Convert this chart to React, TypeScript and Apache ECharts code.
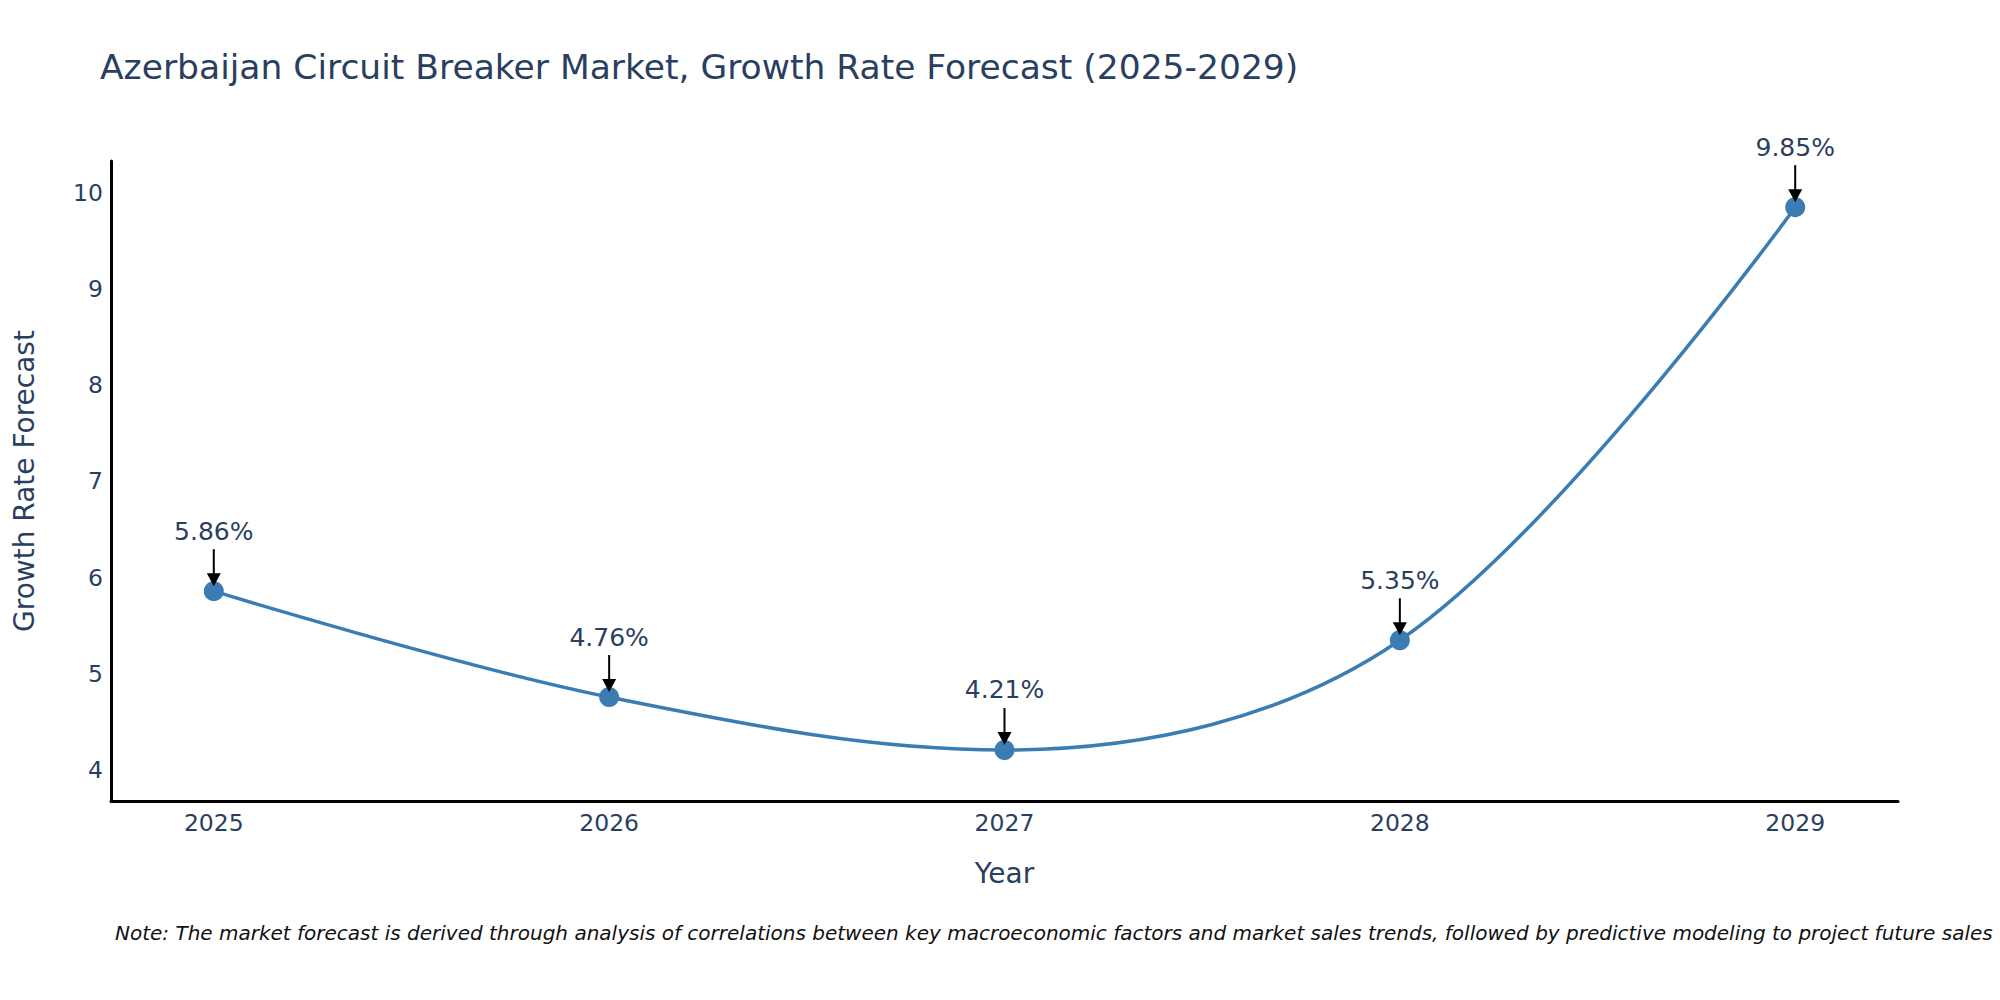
import React, { useEffect, useRef } from "react";
import * as echarts from "echarts";

const years = [2025, 2026, 2027, 2028, 2029];
const growthRates = [5.86, 4.76, 4.21, 5.35, 9.85];
const pointLabels = ["5.86%", "4.76%", "4.21%", "5.35%", "9.85%"];

const titleText = "Azerbaijan Circuit Breaker Market, Growth Rate Forecast (2025-2029)";
const noteText =
    "Note: The market forecast is derived through analysis of correlations between key macroeconomic factors and market sales trends, followed by predictive modeling to project future sales";

const FONT = "'DejaVu Sans', Verdana, sans-serif";
const INK = "#2a3f5f";
const LINE_COLOR = "#3b7db2";

const App: React.FC = () => {
    const chartRef = useRef<HTMLDivElement>(null);

    useEffect(() => {
        if (!chartRef.current) return;
        const chart = echarts.init(chartRef.current, null, { renderer: "svg" });

        const intLabel = (v: number) => (Math.abs(v - Math.round(v)) < 1e-6 ? String(Math.round(v)) : "");

        chart.setOption({
            animation: false,
            backgroundColor: "#fff",
            title: {
                text: titleText,
                left: 100,
                top: 49,
                padding: 0,
                textStyle: { fontFamily: FONT, fontSize: 34.5, fontWeight: "normal", color: INK }
            },
            grid: { left: 111, right: 102, top: 161, bottom: 199, containLabel: false },
            xAxis: {
                type: "value",
                min: 2024.74,
                max: 2029.26,
                name: "Year",
                nameLocation: "middle",
                nameGap: 58,
                nameTextStyle: { fontFamily: FONT, fontSize: 28, color: INK },
                axisLine: { show: true, lineStyle: { color: "#000", width: 3 } },
                axisTick: { show: false },
                splitLine: { show: false },
                axisLabel: {
                    formatter: intLabel,
                    showMinLabel: false,
                    showMaxLabel: false,
                    margin: 10,
                    fontFamily: FONT,
                    fontSize: 23.5,
                    color: INK
                }
            },
            yAxis: {
                type: "value",
                min: 3.68,
                max: 10.33,
                name: "Growth Rate Forecast",
                nameLocation: "middle",
                nameGap: 73,
                nameTextStyle: { fontFamily: FONT, fontSize: 28, color: INK },
                axisLine: { show: true, lineStyle: { color: "#000", width: 3 } },
                axisTick: { show: false },
                splitLine: { show: false },
                axisLabel: {
                    formatter: intLabel,
                    showMinLabel: false,
                    showMaxLabel: false,
                    margin: 8,
                    fontFamily: FONT,
                    fontSize: 23.5,
                    color: INK
                }
            },
            series: [
                {
                    type: "line",
                    data: years.map((y, i) => [y, growthRates[i]]),
                    smooth: 0.35,
                    symbol: "circle",
                    symbolSize: 20,
                    lineStyle: { color: LINE_COLOR, width: 3.5 },
                    itemStyle: { color: LINE_COLOR },
                    z: 2
                }
            ]
        });

        // annotations: label above each point with an arrow pointing down to the marker
        const graphics: any[] = [];
        years.forEach((yr, i) => {
            const [px, py] = chart.convertToPixel({ gridIndex: 0 }, [yr, growthRates[i]]) as number[];
            graphics.push({
                type: "line",
                shape: { x1: px, y1: py - 42, x2: px, y2: py - 16 },
                style: { stroke: "#000", lineWidth: 2 },
                z: 10
            });
            graphics.push({
                type: "polygon",
                shape: { points: [[px - 7, py - 18], [px + 7, py - 18], [px, py - 5]] },
                style: { fill: "#000" },
                z: 10
            });
            graphics.push({
                type: "text",
                x: px,
                y: py - 60,
                style: {
                    text: pointLabels[i],
                    fontFamily: FONT,
                    fontSize: 25,
                    fill: INK,
                    align: "center",
                    verticalAlign: "middle"
                },
                z: 10
            });
        });
        graphics.push({
            type: "text",
            x: 115,
            y: 933,
            style: {
                text: noteText,
                fontFamily: FONT,
                fontSize: 20,
                fontStyle: "italic",
                fill: "#111",
                align: "left",
                verticalAlign: "middle"
            }
        });
        chart.setOption({ graphic: graphics });

        return () => {
            chart.dispose();
        };
    }, []);

    return (
        <div style={{ position: "fixed", left: 0, top: 0, width: 2000, height: 1000, background: "#fff" }}>
            <div ref={chartRef} style={{ width: "100%", height: "100%" }} />
        </div>
    );
};

export default App;
